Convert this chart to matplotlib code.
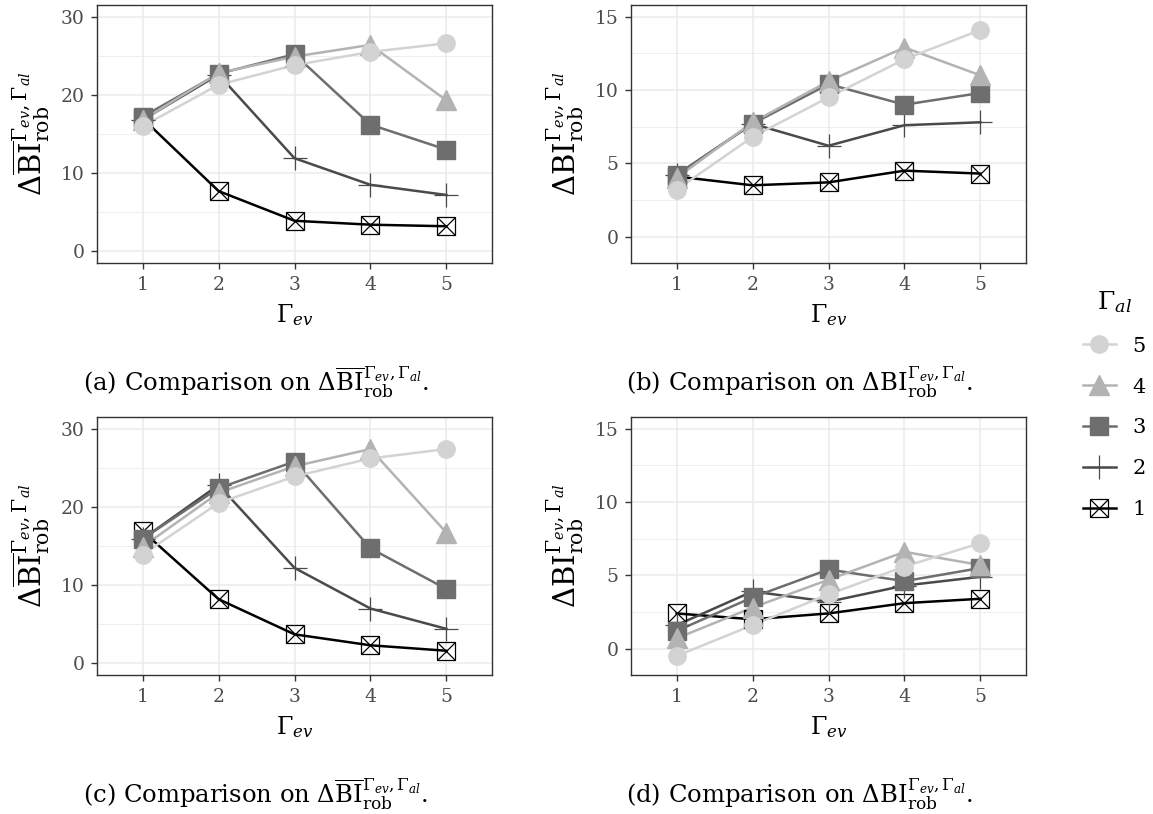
import matplotlib

matplotlib.use("Agg")
import matplotlib.pyplot as plt
from matplotlib.lines import Line2D
from matplotlib.ticker import MultipleLocator

plt.rcParams["font.family"] = ["DejaVu Serif"]
plt.rcParams["mathtext.fontset"] = "dejavuserif"

gamma_ev = [1, 2, 3, 4, 5]
levels = ["5", "4", "3", "2", "1"]

# panel (a): mean BI, first setting
a_5 = [16.0, 21.3, 23.8, 25.5, 26.6]
a_4 = [16.8, 22.8, 24.9, 26.4, 19.3]
a_3 = [17.2, 22.7, 25.2, 16.2, 13.0]
a_2 = [16.8, 22.6, 11.9, 8.5, 7.2]
a_1 = [17.0, 7.7, 3.9, 3.4, 3.2]

# panel (b): BI, first setting
b_5 = [3.2, 6.8, 9.5, 12.1, 14.1]
b_4 = [4.0, 7.8, 10.6, 12.9, 11.0]
b_3 = [4.2, 7.7, 10.4, 9.0, 9.8]
b_2 = [4.2, 7.7, 6.2, 7.6, 7.8]
b_1 = [4.1, 3.5, 3.7, 4.5, 4.3]

# panel (c): mean BI, second setting
c_5 = [13.9, 20.5, 23.9, 26.2, 27.4]
c_4 = [14.9, 21.8, 25.2, 27.4, 16.7]
c_3 = [15.9, 22.4, 25.8, 14.7, 9.5]
c_2 = [15.9, 22.8, 12.2, 7.0, 4.4]
c_1 = [16.9, 8.2, 3.7, 2.3, 1.6]

# panel (d): BI, second setting
d_5 = [-0.5, 1.6, 3.7, 5.6, 7.2]
d_4 = [0.7, 2.8, 4.7, 6.6, 5.7]
d_3 = [1.2, 3.5, 5.4, 4.6, 5.5]
d_2 = [1.6, 3.9, 3.2, 4.3, 4.9]
d_1 = [2.4, 2.0, 2.4, 3.1, 3.4]

panels = [
    ("a", True, (0, 30), [a_5, a_4, a_3, a_2, a_1]),
    ("b", False, (-1, 15), [b_5, b_4, b_3, b_2, b_1]),
    ("c", True, (0, 30), [c_5, c_4, c_3, c_2, c_1]),
    ("d", False, (-1, 15), [d_5, d_4, d_3, d_2, d_1]),
]

colors = {"5": "#D3D3D3", "4": "#B3B3B3", "3": "#6E6E6E", "2": "#4A4A4A", "1": "#000000"}

W, H = 1153, 814
fig = plt.figure(figsize=(W / 100, H / 100), dpi=100)

# axes boxes in pixels: left, top, right, bottom
boxes = [(97, 5, 492, 263), (631, 5, 1026, 263), (97, 417, 492, 675), (631, 417, 1026, 675)]
captions_x = [256, 800, 256, 800]
captions_y = [392, 392, 804, 804]
LW = 1.8


def draw_markers(ax, x, y, level, zorder):
    c = colors[level]
    if level == "5":
        ax.plot(x, y, "o", ms=12.5, color=c, mec=c, zorder=zorder)
    elif level == "4":
        ax.plot(x, y, "^", ms=14.5, color=c, mec=c, zorder=zorder)
    elif level == "3":
        ax.plot(x, y, "s", ms=12.5, color=c, mec=c, zorder=zorder)
    elif level == "2":
        ax.plot(x, y, "+", ms=17, color=c, mew=0.9, zorder=zorder)
    else:
        ax.plot(x, y, "s", ms=12.5, mfc="none", mec=c, mew=0.9, zorder=zorder)
        ax.plot(x, y, "x", ms=12.5, color=c, mew=0.9, zorder=zorder)


def legend_handle(level):
    c = colors[level]
    kw = dict(color=c, lw=LW)
    if level == "5":
        return Line2D([], [], marker="o", ms=12.5, mec=c, **kw)
    if level == "4":
        return Line2D([], [], marker="^", ms=14.5, mec=c, **kw)
    if level == "3":
        return Line2D([], [], marker="s", ms=12.5, mec=c, **kw)
    if level == "2":
        return Line2D([], [], marker="+", ms=17, mew=0.9, **kw)
    return (
        Line2D([], [], marker="s", ms=12.5, mfc="none", mec=c, mew=0.9, **kw),
        Line2D([], [], marker="x", ms=12.5, color=c, mew=0.9, lw=0),
    )


for i, (tag, bar, lims, series) in enumerate(panels):
    l, t, r, b = boxes[i]
    ax = fig.add_axes([l / W, (H - b) / H, (r - l) / W, (b - t) / H])
    span = lims[1] - lims[0]
    ax.set_ylim(lims[0] - 0.05 * span, lims[1] + 0.05 * span)
    ax.set_xlim(0.4, 5.6)
    ax.xaxis.set_major_locator(MultipleLocator(1))
    ax.yaxis.set_major_locator(MultipleLocator(10 if lims[0] == 0 else 5))
    ax.yaxis.set_minor_locator(MultipleLocator(5 if lims[0] == 0 else 2.5))
    ax.grid(which="major", color="#EBEBEB", lw=1.1, zorder=0)
    ax.grid(which="minor", axis="y", color="#EBEBEB", lw=0.55, zorder=0)
    ax.set_axisbelow(True)
    for s in ax.spines.values():
        s.set_color("#333333")
        s.set_linewidth(1.0)
    ax.tick_params(which="major", color="#333333", length=4, width=1.0,
                   labelsize=13.5, labelcolor="#4D4D4D", pad=5)
    ax.tick_params(which="minor", length=0)

    # lines first, then points (level 1 drawn first)
    for k in range(4, -1, -1):
        ax.plot(gamma_ev, series[k], color=colors[levels[k]], lw=LW, zorder=2)
    for k in range(4, -1, -1):
        draw_markers(ax, gamma_ev, series[k], levels[k], 3)

    bi = r"\overline{\mathrm{BI}}" if bar else r"\mathrm{BI}"
    sym = r"\Delta" + bi + r"^{\Gamma_{ev},\Gamma_{al}}_{\mathrm{rob}}"
    ax.set_ylabel("$" + sym + "$", fontsize=21, labelpad=6)
    ax.set_xlabel(r"$\Gamma_{ev}$", fontsize=17, labelpad=6)

    fig.text(captions_x[i] / W, (H - captions_y[i]) / H,
             "(" + tag + ") Comparison on $" + sym + "$.",
             fontsize=17.5, ha="center", va="baseline")

handles = [legend_handle(lv) for lv in levels]
leg = fig.legend(handles, levels, title=r"$\Gamma_{al}$", loc="center left",
                 bbox_to_anchor=(1064 / W, 1 - 404 / H), frameon=False,
                 fontsize=15, title_fontsize=18, handlelength=1.6,
                 labelspacing=1.05, handletextpad=0.8)

fig.savefig("out.png", dpi=100)
